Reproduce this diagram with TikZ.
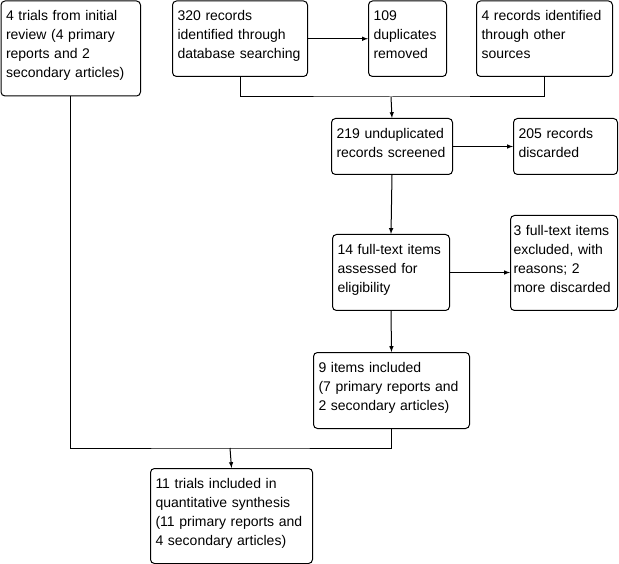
\documentclass[tikz,border=0pt]{standalone}
\usepackage{fontspec}
\setmainfont{Liberation Sans}
\usepackage{tikz}
\usetikzlibrary{arrows, positioning}
\newcommand{\flowfont}{\fontsize{14pt}{19pt}\selectfont\hyphenpenalty=10000\relax}

\begin{document}
\begin{tikzpicture}[x=1pt, y=-1pt, line width=1pt,
    flow/.style={rectangle, draw, rounded corners=4pt, anchor=north west, align=left, inner sep=5pt, text height=15pt, font=\flowfont},
    arrow/.style={->,>=latex}]
    \useasboundingbox (0,0) rectangle (619,564);
    % top row
    \node [flow, text width=129.5pt, text depth=70pt] (trials) at (0.5,0.5) {4 trials from initial\\review (4 primary\\reports and 2\\secondary articles)};
    \node [flow, text width=125pt, text depth=50.5pt] (dbrec) at (172,0.5) {320 records\\identified through\\database searching};
    \node [flow, text width=68pt, text depth=50.5pt] (dupl) at (368,0.5) {109\\duplicates\\removed};
    \node [flow, text width=126pt, text depth=50.5pt] (other) at (476,0.5) {4 records identified\\through other\\sources};
    % screening
    \node [flow, text width=111pt, text depth=31pt] (screened) at (331,118) {219 unduplicated\\records screened};
    \node [flow, text width=94pt, text depth=31pt] (discarded) at (513,118) {205 records\\discarded};
    \node [flow, text width=107pt, text depth=51pt] (fulltext) at (332,234) {14 full-text items\\assessed for\\eligibility};
    \node [flow, inner xsep=3pt, text width=101pt, text depth=70pt] (excluded) at (510,215) {3 full-text items\\excluded, with\\reasons; 2\\more discarded};
    \node [flow, text width=146pt, text depth=51pt] (included) at (313,352) {9 items included\\(7 primary reports and\\2 secondary articles)};
    \node [flow, text width=152pt, text depth=70pt] (synth) at (150,468) {11 trials included in\\quantitative synthesis\\(11 primary reports and\\4 secondary articles)};

    \coordinate (mergeA) at (391,97);
    \coordinate (mergeB) at (230,448);

    \draw [arrow] (dbrec) -- (dupl);
    \draw (dbrec.south) |- (mergeA) -| (other.south);
    \draw [arrow] (mergeA) -- (screened.north);
    \draw [arrow] (screened) -- (discarded);
    \draw [arrow] (screened.south) -- (fulltext.north);
    \draw [arrow] (fulltext.east) -- (fulltext.east -| excluded.west);
    \draw [arrow] (fulltext.south) -- (included.north);
    \draw (trials.south) |- (mergeB) -| (included.south);
    \draw [arrow] (mergeB) -- (synth.north);
\end{tikzpicture}
\end{document}
